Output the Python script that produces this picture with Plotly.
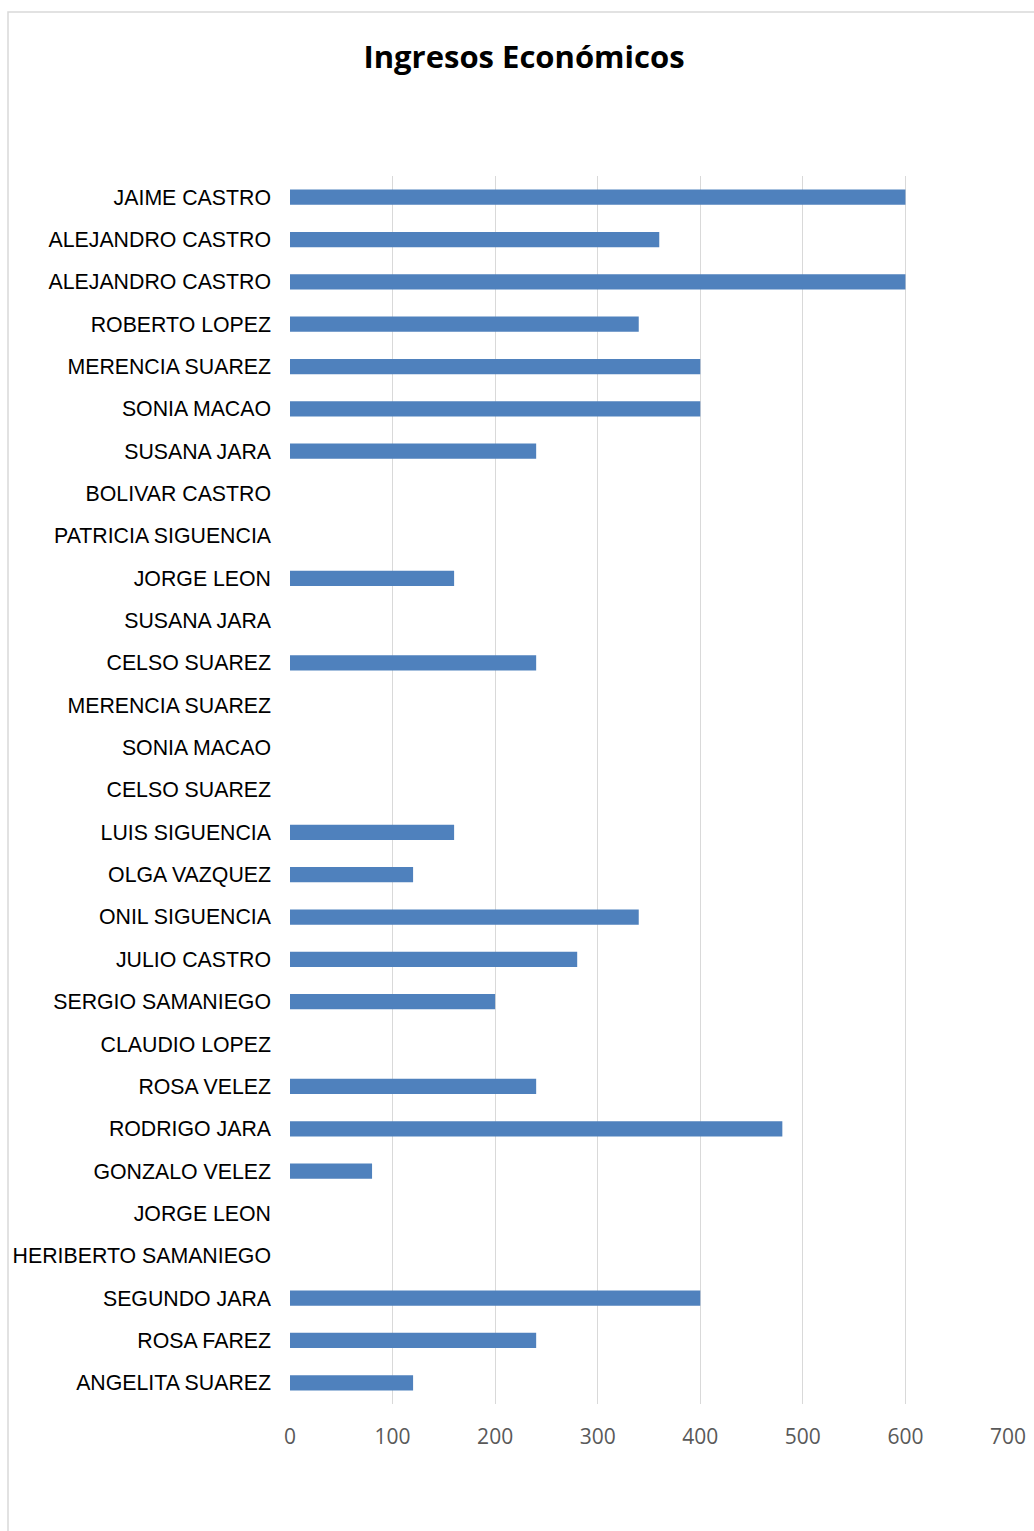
import plotly.graph_objects as go

names = ["JAIME CASTRO", "ALEJANDRO CASTRO", "ALEJANDRO CASTRO", "ROBERTO LOPEZ",
         "MERENCIA SUAREZ", "SONIA MACAO", "SUSANA JARA", "BOLIVAR CASTRO",
         "PATRICIA SIGUENCIA", "JORGE LEON", "SUSANA JARA", "CELSO SUAREZ",
         "MERENCIA SUAREZ", "SONIA MACAO", "CELSO SUAREZ", "LUIS SIGUENCIA",
         "OLGA VAZQUEZ", "ONIL SIGUENCIA", "JULIO CASTRO", "SERGIO SAMANIEGO",
         "CLAUDIO LOPEZ", "ROSA VELEZ", "RODRIGO JARA", "GONZALO VELEZ",
         "JORGE LEON", "HERIBERTO SAMANIEGO", "SEGUNDO JARA", "ROSA FAREZ",
         "ANGELITA SUAREZ"]
ingresos = [600, 360, 600, 340, 400, 400, 240, 0, 0, 160, 0, 240, 0, 0, 0,
            160, 120, 340, 280, 200, 0, 240, 480, 80, 0, 0, 400, 240, 120]
x_ticks = [0, 100, 200, 300, 400, 500, 600, 700]

positions = list(range(len(names)))

fig = go.Figure(go.Bar(
    x=ingresos, y=positions, orientation="h",
    width=0.36,
    marker=dict(color="#4f81bd", line=dict(width=0)),
))

W, H = 1034, 1531
L, R, T, B = 290, 26, 176, 127
pw, ph = W - L - R, H - T - B

def px_x(p):
    return (p - L) / pw

def px_y(p):
    return (H - B - p) / ph

fig.update_layout(
    width=W, height=H,
    margin=dict(l=L, r=R, t=T, b=B),
    paper_bgcolor="white", plot_bgcolor="white",
    showlegend=False,
    title=dict(text="<b>Ingresos Económicos</b>", x=524 / W, xanchor="center",
               y=1 - 57 / H, yanchor="middle",
               font=dict(family="Open Sans, sans-serif", size=31, color="black")),
    xaxis=dict(range=[0, 700], tickvals=x_ticks, ticktext=[str(v) for v in x_ticks],
               showgrid=True, gridcolor="#d9d9d9", gridwidth=1,
               zeroline=False, showline=False, ticks="", automargin=False,
               ticklabelstandoff=18,
               tickfont=dict(family="Open Sans, sans-serif", size=21, color="#595959")),
    yaxis=dict(range=[len(names) - 0.5, -0.5], tickvals=positions, ticktext=names,
               showgrid=False, zeroline=False, showline=False, ticks="", automargin=False,
               ticklabelstandoff=18,
               tickfont=dict(family="Liberation Sans, Arial, sans-serif",
                             size=21.3, color="black")),
    shapes=[dict(type="rect", xref="paper", yref="paper",
                 x0=px_x(8), x1=px_x(1045), y0=px_y(1545), y1=px_y(12),
                 line=dict(color="#d9d9d9", width=1.5), fillcolor="rgba(0,0,0,0)",
                 layer="below")],
)

fig.write_html("out.html")
